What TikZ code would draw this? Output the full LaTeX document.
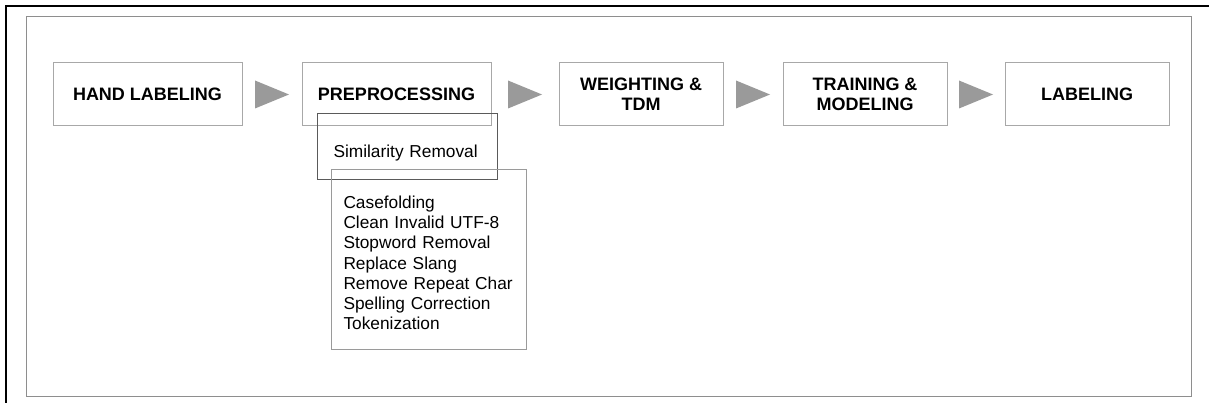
\documentclass[tikz,border=0pt]{standalone}
\usepackage{fontspec}
\setmainfont{Liberation Sans}
\usetikzlibrary{calc}
\definecolor{gris}{HTML}{A8A8A8}
\definecolor{grismoyen}{HTML}{9A9A9A}
\definecolor{grisfonce}{HTML}{5A5A5A}
\definecolor{cadre}{HTML}{8E8E8E}
\begin{document}
\begin{tikzpicture}[x=1pt, y=-1pt]
	\tikzset{etape/.style={rectangle, draw=gris, line width=1pt, minimum height=63pt, inner sep=0pt, align=center, font=\fontsize{18}{20}\selectfont\bfseries},
		sousetape/.style={rectangle, line width=1pt, inner ysep=0pt, align=left, anchor=north west, font=\fontsize{17.3}{20.2}\selectfont},
		pointe/.style={fill=grismoyen}};

	\useasboundingbox (0,0) rectangle (1209,403);
	\draw[line width=2pt] (5.8,403) -- (5.8,5.8) -- (1209,5.8);
	\draw[draw=cadre, line width=1pt] (26,17) rectangle (1191,396);

	\node[etape, minimum width=189pt] (hand) at ( 147.5, 94.5) {HAND LABELING};
	\node[etape, minimum width=189pt] (prep) at ( 396.5, 94.5) {PREPROCESSING};
	\node[etape, minimum width=164pt] (poids) at ( 641, 94.5) {WEIGHTING \&\\TDM};
	\node[etape, minimum width=164pt] (train) at ( 865, 94.5) {TRAINING \&\\MODELING};
	\node[etape, minimum width=164pt] (label) at (1087, 94.5) {LABELING};

	\node[sousetape, draw=grisfonce, text width=148pt, inner xsep=16pt, text height=44pt, text depth=22pt] (simil) at (317,113) {Similarity Removal};
	\node[sousetape, draw=grismoyen, text width=171pt, inner xsep=12pt, text height=39pt, text depth=141pt] (liste) at (331,169) {Casefolding\\Clean Invalid UTF-8\\Stopword Removal\\Replace Slang\\Remove Repeat Char\\Spelling Correction\\Tokenization};

	\fill[pointe] ($(hand.east)!0.5!(prep.west)$) ++(-17,-14) -- ++(34,14) -- ++(-34,14) -- cycle;
	\fill[pointe] ($(prep.east)!0.5!(poids.west)$) ++(-17,-14) -- ++(34,14) -- ++(-34,14) -- cycle;
	\fill[pointe] ($(poids.east)!0.5!(train.west)$) ++(-17,-14) -- ++(34,14) -- ++(-34,14) -- cycle;
	\fill[pointe] ($(train.east)!0.5!(label.west)$) ++(-17,-14) -- ++(34,14) -- ++(-34,14) -- cycle;

\end{tikzpicture}
\end{document}
